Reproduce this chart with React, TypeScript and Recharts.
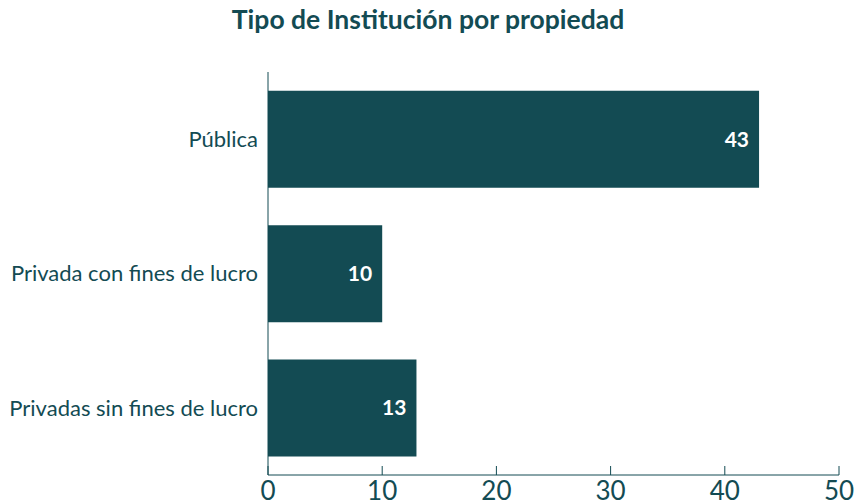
import React from 'react';
import { BarChart, Bar, XAxis, YAxis, LabelList } from 'recharts';

const categories = ['Pública', 'Privada con fines de lucro', 'Privadas sin fines de lucro'];
const counts = [43, 10, 13];
const xTicks = [0, 10, 20, 30, 40, 50];

const TEAL = '#134b53';

const data = categories.map((name, i) => ({ name, value: counts[i] }));

const App: React.FC = () => {
  return (
    <div style={{ position: 'absolute', left: 0, top: 0, width: 856, height: 504, fontFamily: 'Lato, sans-serif' }}>
      <div
        style={{
          position: 'absolute',
          top: 3,
          left: 0,
          width: 856,
          textAlign: 'center',
          fontSize: 26.5,
          fontWeight: 700,
          color: TEAL,
        }}
      >
        Tipo de Institución por propiedad
      </div>
      <BarChart
        width={856}
        height={504}
        data={data}
        layout="vertical"
        barCategoryGap="14%"
        margin={{ top: 72, right: 17, left: 0, bottom: 0 }}
      >
        <XAxis
          type="number"
          domain={[0, 50]}
          ticks={xTicks}
          height={29}
          stroke={TEAL}
          tickSize={-9}
          tickMargin={16}
          tick={{ fill: TEAL, fontSize: 26, fontFamily: 'Lato' }}
        />
        <YAxis
          type="category"
          dataKey="name"
          width={268}
          stroke={TEAL}
          tickLine={false}
          tickSize={0}
          tickMargin={10}
          tick={{ fill: TEAL, fontSize: 22, fontFamily: 'Lato' }}
        />
        <Bar dataKey="value" fill={TEAL} isAnimationActive={false}>
          <LabelList
            dataKey="value"
            position="insideRight"
            offset={10}
            fill="#ffffff"
            fontSize={21}
            fontWeight={700}
            fontFamily="Lato"
          />
        </Bar>
      </BarChart>
    </div>
  );
};

export default App;
